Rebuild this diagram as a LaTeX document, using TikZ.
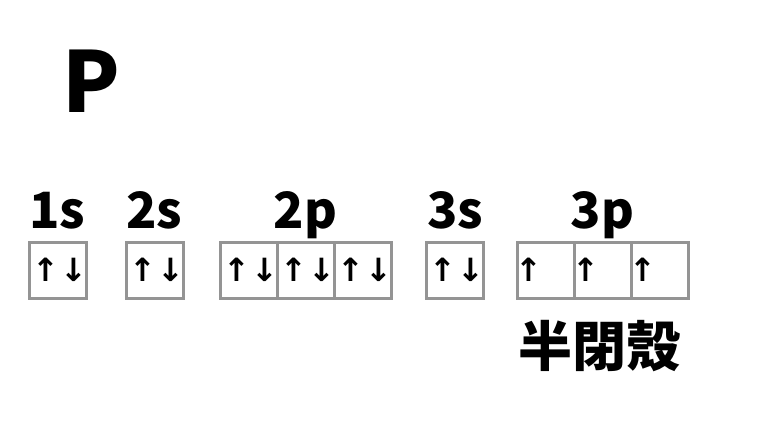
\documentclass[tikz,border=0pt]{standalone}
\usepackage{fontspec}
\setmainfont{Noto Sans CJK JP}
\newfontfamily\arrowfont{DejaVu Sans}
\usetikzlibrary{positioning}

\begin{document}
\begin{tikzpicture}[x=1pt, y=-1pt]
    % Define styles
    \tikzstyle{cell} = [rectangle, minimum width=57pt, minimum height=56pt, inner sep=0pt, outer sep=0pt, draw=black!42, line width=3pt]
    \tikzstyle{orbital} = [font=\bfseries\fontsize{50}{50}\selectfont, inner sep=0pt, anchor=base]
    \tikzstyle{spin} = [font=\arrowfont\bfseries\fontsize{32}{32}\selectfont, inner sep=0pt]

    \useasboundingbox (0,0) rectangle (768,432);

    % Element
    \node[font=\bfseries\fontsize{84}{84}\selectfont, inner sep=0pt, anchor=base] (element) at (91,112) {P};

    % Boxes
    \node[cell] (s1) at (57.5,270) {};
    \node[cell] (s2) at (154.5,270) {};
    \node[cell] (p2a) at (248.5,270) {};
    \node[cell, right=0pt of p2a] (p2b) {};
    \node[cell, right=0pt of p2b] (p2c) {};
    \node[cell] (s3) at (455,270) {};
    \node[cell] (p3a) at (545.5,270) {};
    \node[cell, right=0pt of p3a] (p3b) {};
    \node[cell, right=0pt of p3b] (p3c) {};

    % Electrons
    \foreach \c in {s1, s2, p2a, p2b, p2c, s3} {
        \node[spin] at ([xshift=-12pt]\c.center) {↑};
        \node[spin] at ([xshift=16pt]\c.center) {↓};
    }
    \foreach \c in {p3a, p3b, p3c}
        \node[spin] at ([xshift=12pt]\c.west) {↑};

    % Labels
    \node[orbital] (l1s) at (57.5,228) {1s};
    \node[orbital] (l2s) at (154.5,228) {2s};
    \node[orbital] (l2p) at (p2b |- 0,228) {2p};
    \node[orbital] (l3s) at (455,228) {3s};
    \node[orbital] (l3p) at (p3b |- 0,228) {3p};

    \node[font=\bfseries\fontsize{54}{54}\selectfont, inner sep=0pt, below=22pt of p3b, xshift=-3pt] (half) {半閉殼};
\end{tikzpicture}
\end{document}
